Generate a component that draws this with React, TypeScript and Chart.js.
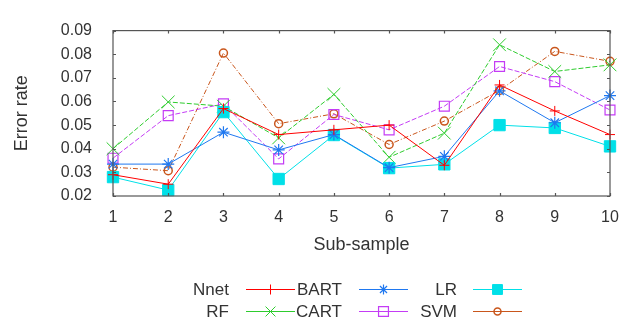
import React, { useEffect, useRef } from 'react';
import { Chart, registerables } from 'chart.js';
import { drawPoint } from 'chart.js/helpers';

Chart.register(...registerables);

const subSamples = ['1', '2', '3', '4', '5', '6', '7', '8', '9', '10'];
const yMin = 0.02;
const yMax = 0.09;
const yStep = 0.01;

const nnet = [0.029, 0.025, 0.057, 0.046, 0.048, 0.050, 0.033, 0.067, 0.056, 0.046];
const bart = [0.0335, 0.0335, 0.047, 0.0395, 0.046, 0.032, 0.0368, 0.0645, 0.051, 0.0625];
const lr = [0.028, 0.0225, 0.0555, 0.0272, 0.0458, 0.0318, 0.0334, 0.050, 0.0488, 0.041];
const rf = [0.040, 0.0598, 0.058, 0.0446, 0.063, 0.0364, 0.0466, 0.084, 0.0727, 0.0755];
const cart = [0.036, 0.054, 0.059, 0.0357, 0.0545, 0.048, 0.058, 0.0748, 0.0684, 0.0564];
const svm = [0.0322, 0.0307, 0.0805, 0.0506, 0.0548, 0.0418, 0.0517, 0.0647, 0.0812, 0.077];

const FONT = "'Liberation Sans', Arial, sans-serif";
const TEXT = '#333333';

type Series = {
  label: string;
  data: number[];
  color: string;
  style: string;
  radius: number;
  legendRadius: number;
  fill: boolean;
  dash: number[];
  pw: number;
};

const series: Series[] = [
  { label: 'Nnet', data: nnet, color: '#ff0000', style: 'cross', radius: 5, legendRadius: 5, fill: false, dash: [], pw: 1 },
  { label: 'BART', data: bart, color: '#1f78f0', style: 'star', radius: 6, legendRadius: 5, fill: false, dash: [], pw: 1.2 },
  { label: 'LR', data: lr, color: '#00e0e8', style: 'rect', radius: 8, legendRadius: 7, fill: true, dash: [], pw: 1 },
  { label: 'RF', data: rf, color: '#2ecc2e', style: 'crossRot', radius: 9, legendRadius: 7, fill: false, dash: [5, 2], pw: 1 },
  { label: 'CART', data: cart, color: '#c43cf5', style: 'rect', radius: 7, legendRadius: 7, fill: false, dash: [5, 2], pw: 1.2 },
  { label: 'SVM', data: svm, color: '#c9561c', style: 'circle', radius: 4, legendRadius: 3.5, fill: false, dash: [5, 2, 1, 2], pw: 1.5 },
];

const legendRows = [
  ['Nnet', 'BART', 'LR'],
  ['RF', 'CART', 'SVM'],
];

const framePlugin = {
  id: 'frame',
  afterDatasetsDraw(chart: any) {
    const { ctx, chartArea } = chart;
    const { left, right, top, bottom } = chartArea;
    const xs = chart.scales.x;
    const ys = chart.scales.y;
    ctx.save();
    ctx.strokeStyle = '#555555';
    ctx.lineWidth = 1.2;
    ctx.strokeRect(left, top, right - left, bottom - top);
    const tl = 3;
    ctx.beginPath();
    xs.ticks.forEach((_t: any, i: number) => {
      const x = Math.round(xs.getPixelForTick(i)) + 0.5;
      ctx.moveTo(x, bottom);
      ctx.lineTo(x, bottom - tl);
      ctx.moveTo(x, top);
      ctx.lineTo(x, top + tl);
    });
    ys.ticks.forEach((_t: any, i: number) => {
      const y = Math.round(ys.getPixelForTick(i)) + 0.5;
      ctx.moveTo(left, y);
      ctx.lineTo(left + tl, y);
      ctx.moveTo(right, y);
      ctx.lineTo(right - tl, y);
    });
    ctx.stroke();
    ctx.restore();
  },
};

const legendPlugin = {
  id: 'customLegend',
  afterDraw(chart: any) {
    const { ctx } = chart;
    const rowY = [289, 311];
    const labelRight = [229, 342, 457];
    const lineStart = [246, 359, 473];
    const lineLen = 49;
    ctx.save();
    ctx.font = `17px ${FONT}`;
    ctx.fillStyle = TEXT;
    ctx.textAlign = 'right';
    ctx.textBaseline = 'middle';
    legendRows.forEach((row, r) => {
      row.forEach((name, c) => {
        const s = series.find((q) => q.label === name)!;
        const y = rowY[r];
        ctx.fillStyle = TEXT;
        ctx.fillText(name, labelRight[c], y + 1);
        ctx.strokeStyle = s.color;
        ctx.lineWidth = 1.2;
        ctx.setLineDash([]);
        ctx.beginPath();
        ctx.moveTo(lineStart[c], y + 0.5);
        ctx.lineTo(lineStart[c] + lineLen, y + 0.5);
        ctx.stroke();
        ctx.fillStyle = s.fill ? s.color : 'rgba(0,0,0,0)';
        ctx.lineWidth = s.pw;
        drawPoint(ctx, { pointStyle: s.style, radius: s.legendRadius, rotation: 0, borderWidth: s.pw } as any, lineStart[c] + lineLen / 2, y + 0.5);
      });
    });
    ctx.restore();
  },
};

export default function App() {
  const ref = useRef<HTMLCanvasElement>(null);
  useEffect(() => {
    document.body.style.margin = '0';
    const chart = new Chart(ref.current!, {
      type: 'line',
      data: {
        labels: subSamples,
        datasets: series.map((s) => ({
          label: s.label,
          data: s.data,
          borderColor: s.color,
          backgroundColor: s.fill ? s.color : 'rgba(0,0,0,0)',
          borderWidth: 1,
          borderDash: s.dash,
          pointStyle: s.style as any,
          pointRadius: s.radius,
          pointBorderWidth: s.pw,
          pointBorderColor: s.color,
          pointBackgroundColor: s.fill ? s.color : 'rgba(0,0,0,0)',
          tension: 0,
          fill: false,
          clip: false as any,
        })),
      },
      options: {
        animation: false,
        responsive: false,
        maintainAspectRatio: false,
        layout: { padding: { left: 0, top: 13, right: 26, bottom: 0 } },
        plugins: { legend: { display: false }, tooltip: { enabled: false } },
        scales: {
          x: {
            type: 'category',
            offset: false,
            grid: { display: false, drawTicks: false },
            border: { display: false },
            ticks: { color: TEXT, font: { family: FONT, size: 16 }, padding: 12, maxRotation: 0 },
            title: { display: true, text: 'Sub-sample', color: TEXT, font: { family: FONT, size: 18 }, padding: { top: 0, bottom: 71 } },
            afterFit: (s: any) => { s.height = 131; },
          },
          y: {
            min: yMin,
            max: yMax,
            grid: { display: false, drawTicks: false },
            border: { display: false },
            ticks: {
              stepSize: yStep,
              color: TEXT,
              font: { family: FONT, size: 16 },
              padding: 21,
              callback: (v: any) => Number(v).toFixed(2),
            },
            title: { display: true, text: 'Error rate', color: TEXT, font: { family: FONT, size: 18 }, padding: { top: 11, bottom: 0 } },
            afterFit: (s: any) => { s.width = 113; },
          },
        },
      },
      plugins: [framePlugin, legendPlugin],
    });
    return () => chart.destroy();
  }, []);
  return (
    <div style={{ width: 636, height: 327, background: '#fff' }}>
      <canvas ref={ref} width={636} height={327} style={{ display: 'block' }} />
    </div>
  );
}
